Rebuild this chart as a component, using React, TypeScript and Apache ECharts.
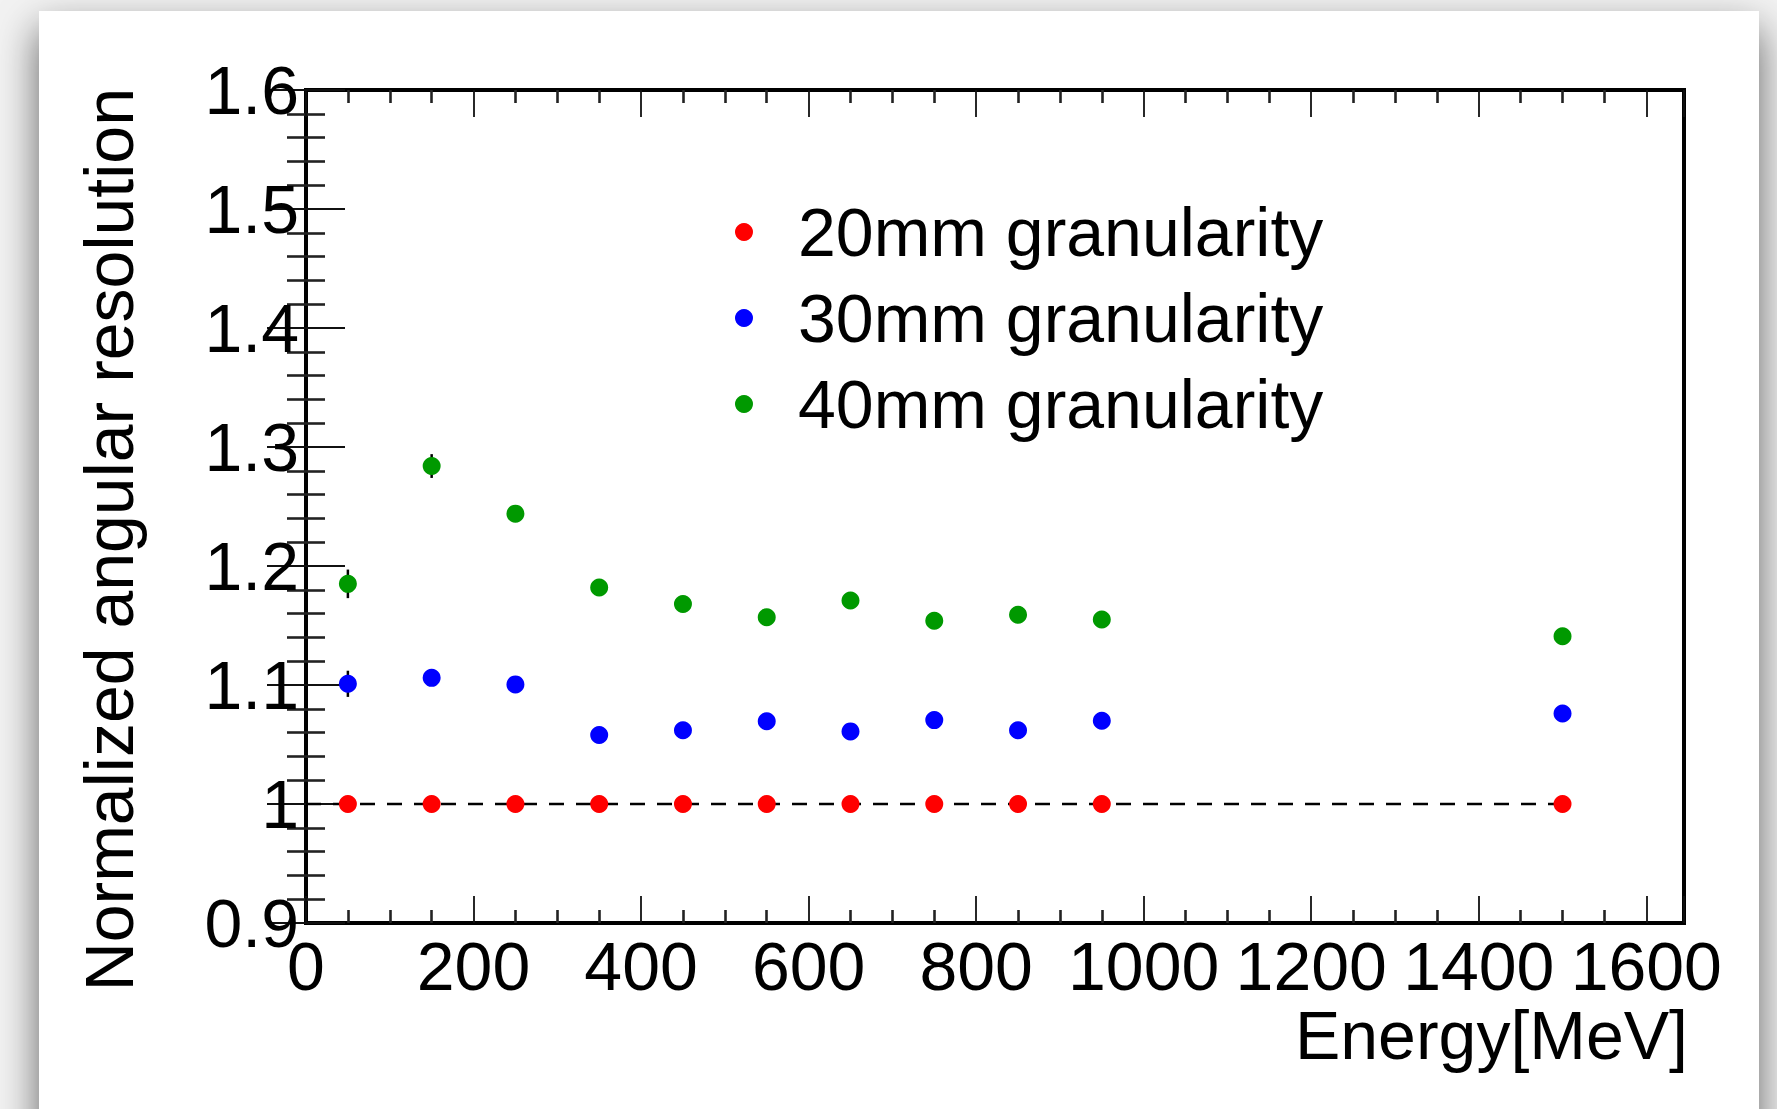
import React, { useEffect, useRef } from "react";
import * as echarts from "echarts";

// Beam energies (MeV) at which the angular resolution was measured
const energies = [50, 150, 250, 350, 450, 550, 650, 750, 850, 950, 1500];

// Angular resolution normalized to the 20 mm cell size
const res20mm = [1, 1, 1, 1, 1, 1, 1, 1, 1, 1, 1];
const res30mm = [1.101, 1.106, 1.1005, 1.058, 1.062, 1.0695, 1.061, 1.0705, 1.062, 1.07, 1.076];
const res40mm = [1.185, 1.284, 1.244, 1.182, 1.168, 1.157, 1.171, 1.154, 1.159, 1.155, 1.141];

// Statistical uncertainties on the normalized resolution
const err20mm = [0, 0, 0, 0, 0, 0, 0, 0, 0, 0, 0];
const err30mm = [0.011, 0.006, 0.005, 0.004, 0.004, 0.004, 0.004, 0.004, 0.004, 0.004, 0.004];
const err40mm = [0.012, 0.01, 0.006, 0.005, 0.005, 0.005, 0.005, 0.005, 0.005, 0.005, 0.005];

const seriesNames = ["20mm granularity", "30mm granularity", "40mm granularity"];
const seriesColors = ["#ff0000", "#0000ff", "#009900"];

// Reference level (ratio = 1) spanning the energy range
const referenceLine = [
  [0, 1],
  [1500, 1],
];

const xTitle = "Energy[MeV]";
const yTitle = "Normalized angular resolution";

const FONT = "'Liberation Sans', Arial, Helvetica, sans-serif";

const X_MIN = 0;
const X_MAX = 1645;
const Y_MIN = 0.9;
const Y_MAX = 1.6;

function points(xs: number[], ys: number[]) {
  return xs.map((x, i) => [x, ys[i]]);
}

function withErrors(xs: number[], ys: number[], es: number[]) {
  return xs.map((x, i) => [x, ys[i], es[i]]);
}

const errorBarItem = (params: any, api: any) => {
  const x = api.value(0);
  const y = api.value(1);
  const e = api.value(2);
  if (!e) return null;
  const top = api.coord([x, y + e]);
  const bottom = api.coord([x, y - e]);
  return {
    type: "line",
    shape: { x1: top[0], y1: top[1], x2: bottom[0], y2: bottom[1] },
    style: { stroke: "#000", lineWidth: 2.5 },
  };
};

export default function App() {
  const ref = useRef<HTMLDivElement>(null);

  useEffect(() => {
    if (!ref.current) return;
    const chart = echarts.init(ref.current, null, { renderer: "svg" });

    const majorTick = { color: "#111", width: 1.8 };
    const minorTick = { color: "#222", width: 2.6 };

    const xAxisBase = {
      type: "value",
      min: X_MIN,
      max: X_MAX,
      interval: 200,
      axisLine: { show: false },
      splitLine: { show: false },
      axisTick: { show: true, inside: true, length: 27, lineStyle: majorTick },
      minorTick: { show: true, splitNumber: 4, length: 13, lineStyle: minorTick },
    };
    const yAxisBase = {
      type: "value",
      min: Y_MIN,
      max: Y_MAX,
      interval: 0.1,
      axisLine: { show: false },
      splitLine: { show: false },
      axisTick: { show: true, inside: true, length: 39, lineStyle: majorTick },
      minorTick: { show: true, splitNumber: 5, length: 19, lineStyle: minorTick },
    };

    const scatterSeries = [res20mm, res30mm, res40mm].map((vals, i) => ({
      name: seriesNames[i],
      type: "scatter",
      data: points(energies, vals),
      symbol: "circle",
      symbolSize: 18,
      itemStyle: { color: seriesColors[i], opacity: 1 },
      z: 5,
    }));

    const errorSeries = [err20mm, err30mm, err40mm].map((errs, i) => ({
      name: seriesNames[i] + " errors",
      type: "custom",
      data: withErrors(energies, [res20mm, res30mm, res40mm][i], errs),
      encode: { x: 0, y: 1 },
      renderItem: errorBarItem,
      z: 3,
      silent: true,
    }));

    chart.setOption({
      animation: false,
      backgroundColor: "transparent",
      textStyle: { fontFamily: FONT },
      grid: {
        left: 306,
        right: 93,
        top: 90,
        bottom: 186,
        show: true,
        borderColor: "#000",
        borderWidth: 4,
        backgroundColor: "transparent",
        containLabel: false,
      },
      legend: {
        data: seriesNames,
        orient: "vertical",
        left: 735,
        top: 198,
        itemWidth: 18,
        itemHeight: 18,
        itemGap: 18,
        icon: "circle",
        padding: 0,
        textStyle: {
          fontFamily: FONT,
          fontSize: 68,
          color: "#000",
          padding: [0, 0, 0, 40],
        },
        selectedMode: false,
      },
      xAxis: [
        {
          ...xAxisBase,
          position: "bottom",
          axisLabel: {
            show: true,
            fontFamily: FONT,
            fontSize: 68,
            color: "#000",
            margin: 9,
            showMaxLabel: false,
            formatter: (v: number) => (v % 200 === 0 ? String(v) : ""),
          },
        },
        {
          ...xAxisBase,
          position: "top",
          axisLabel: { show: false },
        },
      ],
      yAxis: [
        {
          ...yAxisBase,
          position: "left",
          axisLabel: {
            show: true,
            fontFamily: FONT,
            fontSize: 68,
            color: "#000",
            margin: 7,
          },
        },
        {
          ...yAxisBase,
          position: "right",
          axisLabel: { show: false },
        },
      ],
      series: [
        {
          name: "reference",
          type: "line",
          data: referenceLine,
          symbol: "none",
          lineStyle: { color: "#000", width: 2.6, type: [15, 12] },
          z: 2,
          silent: true,
        },
        ...errorSeries,
        ...scatterSeries,
      ],
      graphic: [
        {
          type: "text",
          x: 1688,
          y: 1035,
          style: {
            text: xTitle,
            font: `68px ${FONT}`,
            fill: "#000",
            align: "right",
            verticalAlign: "middle",
          },
        },
        {
          type: "text",
          x: 109,
          y: 88,
          rotation: Math.PI / 2,
          style: {
            text: yTitle,
            font: `68px ${FONT}`,
            fill: "#000",
            align: "right",
            verticalAlign: "middle",
          },
        },
      ],
    });

    return () => chart.dispose();
  }, []);

  return (
    <div
      style={{
        position: "fixed",
        left: 0,
        top: 0,
        width: 1777,
        height: 1109,
        overflow: "hidden",
        background: "#f2f2f2",
      }}
    >
      <div
        style={{
          position: "absolute",
          left: 39,
          top: 11,
          width: 1720,
          height: 1200,
          background: "#ffffff",
          boxShadow: "0 18px 38px rgba(0,0,0,0.6)",
        }}
      />
      <div
        ref={ref}
        style={{ position: "absolute", left: 0, top: 0, width: 1777, height: 1109 }}
      />
    </div>
  );
}
